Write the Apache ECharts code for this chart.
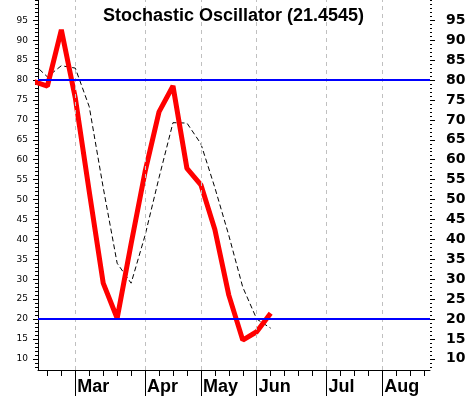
<!DOCTYPE html>
<html>
<head>
<meta charset="utf-8">
<script src="https://cdn.jsdelivr.net/npm/echarts@6/dist/echarts.min.js"></script>
<style>
html,body{margin:0;padding:0;background:#fff;}
#chart{width:469px;height:396px;}
</style>
</head>
<body>
<div id="chart"></div>
<script>
// ---- data (week index relative to first week of March) ----
const weeks = [-3, -2, -1, 0, 1, 2, 3, 4, 5, 6, 7, 8, 9, 10, 11, 12, 13, 14];
const stochK = [79.7, 78.5, 92.6, 75.5, 52.0, 29.0, 20.2, 38.9, 57.0, 72.0, 78.5, 57.8, 53.7, 42.5, 26.0, 14.7, 16.8, 21.45];
const stochD = [84.1, 80.8, 83.6, 83.0, 73.3, 53.0, 34.0, 29.0, 41.0, 55.5, 69.3, 69.2, 64.0, 53.0, 41.0, 28.0, 20.0, 17.7];
const monthLabels = ['Mar', 'Apr', 'May', 'Jun', 'Jul', 'Aug'];
const monthWeeks = [0, 5, 9, 13, 18, 22];
const yLabelValues = [10, 15, 20, 25, 30, 35, 40, 45, 50, 55, 60, 65, 70, 75, 80, 85, 90, 95];
const refLevels = [80, 20];
const titleText = 'Stochastic Oscillator (21.4545)';

const weekTicks = [];
for (let w = -2; w <= 25; w++) weekTicks.push(w);
const minorY = [];
for (let v = 8; v <= 100; v++) minorY.push(v);

const X_MIN = -2.673, X_MAX = 25.418, Y_MIN = 7.2, Y_MAX = 100.1;

const chart = echarts.init(document.getElementById('chart'), null, {renderer: 'canvas'});
const baseY = {type: 'value', min: Y_MIN, max: Y_MAX, splitLine: {show: false}};
const baseX = {type: 'value', min: X_MIN, max: X_MAX, splitLine: {show: false}};

chart.setOption({
  animation: false,
  backgroundColor: '#ffffff',
  title: {
    text: titleText,
    left: 98, top: 2,
    textStyle: {fontFamily: 'Liberation Sans', fontWeight: 'bold', fontSize: 18, color: '#000'}
  },
  grid: {left: 38, right: 39, top: 0, bottom: 26, containLabel: false},
  xAxis: [
    Object.assign({}, baseX, {
      position: 'bottom',
      axisLine: {show: true, onZero: false, lineStyle: {color: '#000', width: 1}},
      axisTick: {show: true, customValues: weekTicks, length: 6, lineStyle: {color: '#000'}},
      axisLabel: {show: false}
    }),
    Object.assign({}, baseX, {
      position: 'bottom',
      axisLine: {show: false, onZero: false},
      axisTick: {show: true, customValues: monthWeeks, length: 26, lineStyle: {color: '#000'}},
      axisLabel: {
        show: true, customValues: monthWeeks,
        formatter: function (v) { const i = monthWeeks.indexOf(Math.round(v)); return i >= 0 ? monthLabels[i] : ''; },
        align: 'left', padding: [0, 0, 0, 2], margin: 8,
        fontFamily: 'Liberation Sans', fontWeight: 'bold', fontSize: 18, color: '#000'
      }
    })
  ],
  yAxis: [
    Object.assign({}, baseY, {
      position: 'left',
      axisLine: {show: true, onZero: false, lineStyle: {color: '#000', width: 1}},
      axisTick: {show: true, customValues: yLabelValues, length: 5, lineStyle: {color: '#000'}},
      axisLabel: {show: true, customValues: yLabelValues, margin: 10,
        fontFamily: 'DejaVu Sans', fontSize: 9, color: '#000'}
    }),
    Object.assign({}, baseY, {
      position: 'left',
      axisLine: {show: false, onZero: false},
      axisTick: {show: true, customValues: minorY, length: 3, lineStyle: {color: '#000'}},
      axisLabel: {show: false}
    }),
    Object.assign({}, baseY, {
      position: 'right',
      axisLine: {show: false, onZero: false},
      axisTick: {show: true, customValues: minorY, length: 2, lineStyle: {color: '#000'}},
      axisLabel: {show: false}
    }),
    Object.assign({}, baseY, {
      position: 'right',
      axisLine: {show: false, onZero: false},
      axisTick: {show: true, customValues: yLabelValues, length: 5, lineStyle: {color: '#000'}},
      axisLabel: {show: true, customValues: yLabelValues, margin: 16,
        fontFamily: 'DejaVu Sans', fontWeight: 'bold', fontSize: 14, color: '#000'}
    })
  ],
  series: [
    {
      type: 'line', data: [], z: 1, silent: true,
      markLine: {
        silent: true, symbol: 'none', label: {show: false}, animation: false,
        lineStyle: {color: '#c0c0c0', type: [4, 4], width: 1},
        emphasis: {disabled: true},
        data: monthWeeks.map(w => ({xAxis: w}))
      }
    },
    {
      type: 'line', data: [], z: 2, silent: true,
      markLine: {
        silent: true, symbol: 'none', label: {show: false}, animation: false,
        lineStyle: {color: '#0000ff', type: 'solid', width: 2},
        emphasis: {disabled: true},
        data: refLevels.map(v => ({yAxis: v}))
      }
    },
    {
      type: 'line', z: 3, silent: true, showSymbol: false, symbol: 'none',
      data: weeks.map((w, i) => [w, stochD[i]]),
      lineStyle: {color: '#000', width: 1, type: [5, 3]}
    },
    {
      type: 'line', z: 4, silent: true, showSymbol: false, symbol: 'none',
      data: weeks.map((w, i) => [w, stochK[i]]),
      lineStyle: {color: '#ff0000', width: 5}
    }
  ]
});
</script>
</body>
</html>
